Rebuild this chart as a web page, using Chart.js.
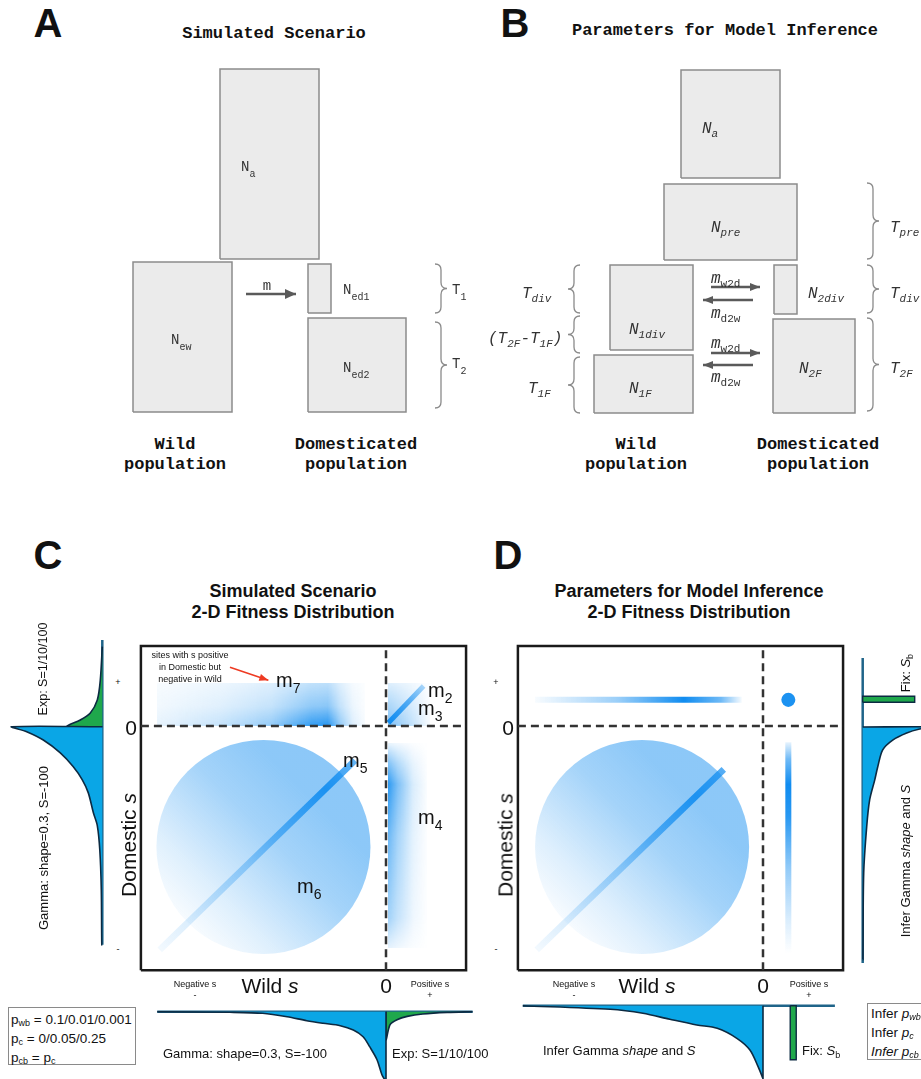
<!DOCTYPE html>
<html lang="en">
<head>
<meta charset="utf-8">
<title>Demographic models and 2-D fitness distributions</title>
<script src="https://cdn.jsdelivr.net/npm/chart.js@4.4.1/dist/chart.umd.min.js"></script>
<style>
  html, body { margin:0; padding:0; background:#fff; }
  #page { position:relative; width:921px; height:1079px; overflow:hidden;
          font-family:"Liberation Sans", Arial, Helvetica, sans-serif; color:#111; }
  #page canvas { position:absolute; }
  .t { position:absolute; white-space:nowrap; line-height:1; }
  .c { transform:translate(-50%,-50%); text-align:center; }
  .l { transform:translate(0,-50%); }
  .v { transform:translate(-50%,-50%) rotate(-90deg); }
  .letter { font-size:40px; font-weight:bold; }
  .ttl { font-family:"Liberation Mono","Courier New",monospace; font-weight:bold; font-size:17px; }
  .pop { font-family:"Liberation Mono","Courier New",monospace; font-weight:bold; font-size:17px;
         line-height:20px; text-align:center; }
  .na { font-family:"Liberation Mono","Courier New",monospace; font-size:14px; color:#333; }
  .na .s { font-size:10px; position:relative; top:6px; }
  .nb { font-family:"Liberation Mono","Courier New",monospace; font-style:italic; font-size:16px; color:#333; }
  .nb .s { font-size:11px; position:relative; top:4px; }
  .nb .u { font-style:normal; }
  .h2 { font-weight:bold; font-size:18px; line-height:21px; text-align:center; }
  .ax { font-size:21px; }
  .sm { font-size:9px; }
  .mk { font-size:20px; }
  .mk .s { font-size:14px; position:relative; top:6px; }
  .lb { font-size:13px; }
  .s9 { font-size:9px; position:relative; top:3px; }
  .pb { position:absolute; border:1px solid #8a8a8a; background:#fff; font-size:13.5px;
        line-height:17px; box-sizing:border-box; white-space:nowrap; }
  .pb .s9 { top:2px; }
</style>
</head>
<body>
<div id="page">
  <!-- panel letters -->
  <div class="t c letter" style="left:48px;top:23px">A</div>
  <div class="t c letter" style="left:515px;top:23px">B</div>
  <div class="t c letter" style="left:48px;top:555px">C</div>
  <div class="t c letter" style="left:508px;top:555px">D</div>

  <!-- panel A: simulated demography -->
  <div class="t c ttl" style="left:274px;top:33px">Simulated Scenario</div>
  <div class="t l na" style="left:241px;top:167px">N<span class="s">a</span></div>
  <div class="t l na" style="left:171px;top:340px">N<span class="s">ew</span></div>
  <div class="t l na" style="left:343px;top:290px">N<span class="s">ed1</span></div>
  <div class="t l na" style="left:343px;top:368px">N<span class="s">ed2</span></div>
  <div class="t c na" style="left:267px;top:286px">m</div>
  <div class="t l na" style="left:452px;top:290px">T<span class="s">1</span></div>
  <div class="t l na" style="left:452px;top:364px">T<span class="s">2</span></div>
  <div class="t c pop" style="left:175px;top:455px">Wild<br>population</div>
  <div class="t c pop" style="left:356px;top:455px">Domesticated<br>population</div>

  <!-- panel B: inferred demography -->
  <div class="t c ttl" style="left:725px;top:30px">Parameters for Model Inference</div>
  <div class="t l nb" style="left:702px;top:129px">N<span class="s">a</span></div>
  <div class="t l nb" style="left:711px;top:228px">N<span class="s">pre</span></div>
  <div class="t l nb" style="left:629px;top:330px">N<span class="s">1div</span></div>
  <div class="t l nb" style="left:629px;top:389px">N<span class="s">1F</span></div>
  <div class="t l nb" style="left:808px;top:294px">N<span class="s">2div</span></div>
  <div class="t l nb" style="left:799px;top:369px">N<span class="s">2F</span></div>
  <div class="t l nb" style="left:711px;top:279px">m<span class="s u">w2d</span></div>
  <div class="t l nb" style="left:711px;top:314px">m<span class="s u">d2w</span></div>
  <div class="t l nb" style="left:711px;top:344px">m<span class="s u">w2d</span></div>
  <div class="t l nb" style="left:711px;top:378px">m<span class="s u">d2w</span></div>
  <div class="t l nb" style="left:890px;top:228px">T<span class="s">pre</span></div>
  <div class="t l nb" style="left:890px;top:294px">T<span class="s">div</span></div>
  <div class="t l nb" style="left:890px;top:369px">T<span class="s">2F</span></div>
  <div class="t l nb" style="left:522px;top:294px">T<span class="s">div</span></div>
  <div class="t l nb" style="left:488px;top:339px">(T<span class="s">2F</span>-T<span class="s">1F</span>)</div>
  <div class="t l nb" style="left:528px;top:389px">T<span class="s">1F</span></div>
  <div class="t c pop" style="left:636px;top:455px">Wild<br>population</div>
  <div class="t c pop" style="left:818px;top:455px">Domesticated<br>population</div>

  <!-- panel C: simulated 2-D DFE -->
  <div class="t c h2" style="left:293px;top:602px">Simulated Scenario<br>2-D Fitness Distribution</div>
  <div class="t c sm" style="left:118px;top:682px">+</div>
  <div class="t c sm" style="left:118px;top:949px">-</div>
  <div class="t c ax" style="left:131px;top:727px">0</div>
  <div class="t v ax" style="left:128px;top:845px">Domestic <i>s</i></div>
  <div class="t c ax" style="left:270px;top:985px">Wild <i>s</i></div>
  <div class="t c ax" style="left:386px;top:985px">0</div>
  <div class="t c sm" style="left:195px;top:984px">Negative s</div>
  <div class="t c sm" style="left:195px;top:995px">-</div>
  <div class="t c sm" style="left:430px;top:984px">Positive s</div>
  <div class="t c sm" style="left:430px;top:995px">+</div>
  <div class="t c sm" style="left:190px;top:655px">sites with s positive</div>
  <div class="t c sm" style="left:190px;top:667px">in Domestic but</div>
  <div class="t c sm" style="left:190px;top:679px">negative in Wild</div>
  <div class="t l mk" style="left:276px;top:680px">m<span class="s">7</span></div>
  <div class="t l mk" style="left:428px;top:690px">m<span class="s">2</span></div>
  <div class="t l mk" style="left:418px;top:708px">m<span class="s">3</span></div>
  <div class="t l mk" style="left:343px;top:760px">m<span class="s">5</span></div>
  <div class="t l mk" style="left:418px;top:817px">m<span class="s">4</span></div>
  <div class="t l mk" style="left:297px;top:886px">m<span class="s">6</span></div>
  <div class="t v lb" style="left:43px;top:669px;font-size:12.5px">Exp: S=1/10/100</div>
  <div class="t v lb" style="left:43px;top:848px">Gamma: shape=0.3, S=-100</div>
  <div class="t l lb" style="left:163px;top:1053px">Gamma: shape=0.3, S=-100</div>
  <div class="t l lb" style="left:392px;top:1053px">Exp: S=1/10/100</div>
  <div class="pb" style="left:8px;top:1007px;width:128px;height:58px;padding:3px 0 0 2px">
    p<span class="s9">wb</span> = 0.1/0.01/0.001<br>
    p<span class="s9">c</span> = 0/0.05/0.25<br>
    p<span class="s9">cb</span> = p<span class="s9">c</span>
  </div>

  <!-- panel D: 2-D DFE used for inference -->
  <div class="t c h2" style="left:689px;top:602px">Parameters for Model Inference<br>2-D Fitness Distribution</div>
  <div class="t c sm" style="left:496px;top:682px">+</div>
  <div class="t c sm" style="left:496px;top:949px">-</div>
  <div class="t c ax" style="left:508px;top:727px">0</div>
  <div class="t v ax" style="left:505px;top:845px">Domestic <i>s</i></div>
  <div class="t c ax" style="left:647px;top:985px">Wild <i>s</i></div>
  <div class="t c ax" style="left:763px;top:985px">0</div>
  <div class="t c sm" style="left:574px;top:984px">Negative s</div>
  <div class="t c sm" style="left:574px;top:995px">-</div>
  <div class="t c sm" style="left:809px;top:984px">Positive s</div>
  <div class="t c sm" style="left:809px;top:995px">+</div>
  <div class="t v lb" style="left:905px;top:673px">Fix: <i>S</i><span class="s9">b</span></div>
  <div class="t v lb" style="left:905px;top:861px">Infer Gamma <i>shape</i> and <i>S</i></div>
  <div class="t l lb" style="left:543px;top:1050px">Infer Gamma <i>shape</i> and <i>S</i></div>
  <div class="t l lb" style="left:802px;top:1050px">Fix: <i>S</i><span class="s9">b</span></div>
  <div class="pb" style="left:867px;top:1003px;width:70px;height:57px;padding:1px 0 0 3px;line-height:18px">
    Infer <i>p<span class="s9">wb</span></i><br>
    Infer <i>p<span class="s9">c</span></i><br>
    <i>Infer p<span class="s9">cb</span></i>
  </div>
</div>

<script>
// ---------------------------------------------------------------------------
// Data
// ---------------------------------------------------------------------------

// Panel A – simulated demography. Boxes are [left, right, bottom, top]:
// x is relative population size, y is time before present.
const simBoxes = [
  [12.0, 21.9, 17.1, 36.1],   // N_a
  [3.3, 13.2, 1.8, 16.8],     // N_ew
  [20.8, 23.1, 11.7, 16.6],   // N_ed1
  [20.8, 30.6, 1.8, 11.2]     // N_ed2
];
const simMigration = [[14.6, 19.6, 13.6]];            // [from, to, time]
const simEpochs = [[33.5, 11.7, 16.6], [33.5, 2.2, 10.8]]; // [x, start, end]

// Panel B – demography used for inference
const infBoxes = [
  [21.1, 31.0, 25.2, 36.0],   // N_a
  [19.4, 32.7, 17.0, 24.6],   // N_pre
  [14.0, 22.3, 8.0, 16.5],    // N_1div
  [12.4, 22.3, 1.7, 7.5],     // N_1F
  [30.4, 32.7, 11.6, 16.5],   // N_2div
  [30.3, 38.5, 1.7, 11.1]     // N_2F
];
const infMigration = [[24.1, 29.0, 14.3], [28.3, 23.3, 13.0], [24.1, 29.0, 7.7], [28.3, 23.3, 6.5]];
const infEpochsRight = [[39.7, 17.1, 24.7], [39.7, 11.7, 16.5], [39.7, 1.9, 11.2]];
const infEpochsLeft = [[11.0, 11.7, 16.5], [11.0, 7.7, 11.4], [11.0, 1.7, 7.3]];

// 2-D DFE panels: x = wild s, y = domestic s (arbitrary s units, 0 = neutral)
const dfeExtent = [-30, 9.8, -29.9, 9.8];                 // [xMin, xMax, yMin, yMax]
const simM7 = {x0: -28.0, x1: -2.6, y0: 0, y1: 5.3};
const simM23 = {x0: 0.2, x1: 5.4, y0: 0, y1: 5.3};
const simM23Diag = [[0.3, 0.4], [4.6, 4.9]];
const simM4 = {x0: 0.2, x1: 5.0, y0: -27.2, y1: -2.1};
const simM6 = {cx: -15.0, cy: -14.8, r: 13.1};
const simM5 = [[-27.7, -27.4], [-3.8, -4.2]];
const noteArrow = [[-19.1, 7.2], [-14.4, 5.6]];

const infBand = [[-27.9, 3.2], [-2.6, 3.2]];
const infDot = {x: 3.1, y: 3.2, r: 0.86};
const infColumn = [[3.1, -2.0], [3.1, -27.8]];
const infM6 = {cx: -14.8, cy: -14.8, r: 13.1};
const infDiag = [[-27.7, -27.4], [-4.8, -5.3]];

// Marginal densities
const simWildNegS = [-28.0, -19.1, -15.1, -12.1, -9.7, -7.7, -5.6, -4.0, -2.8, -2.0, -1.1, -0.5, 0];
const simWildNegD = [0, 0.06, 0.16, 0.50, 0.90, 1.16, 1.40, 1.83, 2.5, 3.5, 4.8, 6.3, 7.0];
const simWildPosS = [0, 0.5, 1.35, 2.6, 4.5, 7.5, 10.6];
const simWildPosD = [2.8, 1.3, 0.8, 0.47, 0.23, 0.07, 0];
const simDomNegS = [0, -0.61, -1.63, -3.2, -4.9, -6.5, -8.1, -10.5, -12.1, -15.1, -20.0, -26.7];
const simDomNegD = [9.06, 7.56, 5.9, 4.2, 2.9, 2.0, 1.4, 0.9, 0.5, 0.25, 0.1, 0.05];
const simDomPosS = [0.05, 0.82, 1.68, 3.27, 5.7, 9.8];
const simDomPosD = [3.5, 2.2, 1.2, 0.5, 0.2, 0];
const simWildAxis = [-28.0, 10.6];
const simDomAxis = [-26.7, 10.6];

const infWildNegS = [-29.4, -18.7, -14.7, -11.4, -8.1, -5.6, -3.2, -1.6, -0.6, 0];
const infWildNegD = [0, 0.36, 0.76, 1.36, 1.93, 2.26, 3.26, 4.43, 6.1, 7.3];
const infDomNegS = [0, -0.25, -0.73, -1.6, -2.8, -4.9, -6.5, -8.9, -12.2, -17.9, -28.5];
const infDomNegD = [7.0, 5.7, 4.4, 3.0, 2.0, 1.5, 1.2, 0.7, 0.4, 0.1, 0.02];
const infWildAxis = [-29.4, 8.8];
const infDomAxis = [-28.9, 8.45];
const fixSbWild = {s: 3.7, d: 5.4};   // fixed beneficial s, wild marginal
const fixSbDom = {s: 3.4, d: 5.2};    // fixed beneficial s, domestic marginal

// ---------------------------------------------------------------------------
// Styling and helpers
// ---------------------------------------------------------------------------
const PX = 8.17;          // pixels per s unit in panels C and D
const DPX = 10;           // pixels per density unit / diagram unit
const BAR_PX = 6;         // thickness of the fixed-S_b bars
const BLUE = '16,140,240';
const rgba = a => `rgba(${BLUE},${a})`;
const DENS_FILL = '#0aa6e6', DENS_EDGE = '#0c2a42', AXIS_TEAL = '#1f6489';
const GREEN = '#1fa84c';
const BOX_FILL = '#ebebeb', BOX_EDGE = '#8c8c8c', ARROW = '#5a5a5a';
const page = document.getElementById('page');

function axisRange(m, lo, len, horizontal) {
  // m.zero: pixel of value 0; m.ppu: pixels per unit; m.dir: +1 grows right/up, -1 left/down
  if (horizontal) {
    return m.dir > 0 ? {min: (lo - m.zero) / m.ppu, max: (lo + len - m.zero) / m.ppu, reverse: false}
                     : {min: (m.zero - lo - len) / m.ppu, max: (m.zero - lo) / m.ppu, reverse: true};
  }
  return m.dir > 0 ? {min: (m.zero - lo - len) / m.ppu, max: (m.zero - lo) / m.ppu, reverse: false}
                   : {min: (lo - m.zero) / m.ppu, max: (lo + len - m.zero) / m.ppu, reverse: true};
}

function makeChart(box, xm, ym, datasets, plugins) {
  const cv = document.createElement('canvas');
  cv.width = box[2]; cv.height = box[3];
  Object.assign(cv.style, {left: box[0] + 'px', top: box[1] + 'px', width: box[2] + 'px', height: box[3] + 'px'});
  page.insertBefore(cv, page.firstChild);
  return new Chart(cv, {
    type: 'line',
    data: {datasets},
    options: {
      responsive: false, maintainAspectRatio: false, animation: false, devicePixelRatio: 1, events: [],
      layout: {padding: 0},
      elements: {point: {radius: 0}, line: {tension: 0}},
      plugins: {legend: {display: false}, tooltip: {enabled: false}},
      scales: {
        x: Object.assign({type: 'linear', display: false, bounds: 'data'}, axisRange(xm, box[0], box[2], true)),
        y: Object.assign({type: 'linear', display: false, bounds: 'data'}, axisRange(ym, box[1], box[3], false))
      }
    },
    plugins: [arrowHeads].concat(plugins || [])
  });
}

const pts = list => list.map(([x, y]) => ({x, y}));
const zip = (a, b) => a.map((v, i) => [v, b[i]]);
const poly = (list, fill, edge, w, extra) =>
  Object.assign({data: pts(list), fill: 'shape', backgroundColor: fill, borderColor: edge, borderWidth: w, pointRadius: 0}, extra || {});
const seg = (list, color, w, extra) =>
  Object.assign({data: pts(list), fill: false, borderColor: color, borderWidth: w, pointRadius: 0}, extra || {});
const rect = ([x0, x1, y0, y1]) => [[x0, y0], [x1, y0], [x1, y1], [x0, y1], [x0, y0]];

// arrowheads at the last point of any dataset that carries an `arrow` entry
const arrowHeads = {
  id: 'arrowHeads',
  afterDatasetsDraw(chart) {
    const ctx = chart.ctx;
    chart.data.datasets.forEach((ds, i) => {
      if (!ds.arrow) return;
      const el = chart.getDatasetMeta(i).data;
      const a = el[el.length - 2], b = el[el.length - 1];
      const ang = Math.atan2(b.y - a.y, b.x - a.x);
      ctx.save();
      ctx.translate(b.x, b.y); ctx.rotate(ang);
      ctx.beginPath();
      ctx.moveTo(0, 0); ctx.lineTo(-ds.arrow[0], ds.arrow[1] / 2); ctx.lineTo(-ds.arrow[0], -ds.arrow[1] / 2);
      ctx.closePath(); ctx.fillStyle = ds.borderColor; ctx.fill();
      ctx.restore();
    });
  }
};

function drawBrace(ctx, x, ya, yb, w) {
  const h = Math.abs(w) / 2, s = Math.sign(w), ym = (ya + yb) / 2, xm = x + s * h, xt = x + w;
  ctx.beginPath();
  ctx.moveTo(x, ya);
  ctx.quadraticCurveTo(xm, ya, xm, ya + h);
  ctx.lineTo(xm, ym - h);
  ctx.quadraticCurveTo(xm, ym, xt, ym);
  ctx.quadraticCurveTo(xm, ym, xm, ym + h);
  ctx.lineTo(xm, yb - h);
  ctx.quadraticCurveTo(xm, yb, x, yb);
  ctx.stroke();
}
function bracePlugin(groups) {
  return {
    id: 'epochBraces',
    afterDatasetsDraw(chart) {
      const {ctx, scales: {x, y}} = chart;
      ctx.save(); ctx.strokeStyle = '#8a8a8a'; ctx.lineWidth = 1.3;
      groups.forEach(([list, dir]) => list.forEach(([bx, y0, y1]) =>
        drawBrace(ctx, x.getPixelForValue(bx), y.getPixelForValue(y1), y.getPixelForValue(y0), 12 * dir)));
      ctx.restore();
    }
  };
}

// ---- gradient painters for the 2-D DFE components ----
function paintRect(chart, r, hStops, vStops) {
  const {x, y} = chart.scales;
  const L = x.getPixelForValue(r.x0), R = x.getPixelForValue(r.x1);
  const T = y.getPixelForValue(r.y1), B = y.getPixelForValue(r.y0);
  const w = Math.max(1, Math.round(R - L)), h = Math.max(1, Math.round(B - T));
  const off = document.createElement('canvas'); off.width = w; off.height = h;
  const o = off.getContext('2d');
  const g = o.createLinearGradient(0, 0, w, 0);
  hStops.forEach(([f, a]) => g.addColorStop(f, rgba(a)));
  o.fillStyle = g; o.fillRect(0, 0, w, h);
  o.globalCompositeOperation = 'destination-in';
  const m = o.createLinearGradient(0, 0, 0, h);
  vStops.forEach(([f, a]) => m.addColorStop(f, `rgba(0,0,0,${a})`));
  o.fillStyle = m; o.fillRect(0, 0, w, h);
  chart.ctx.drawImage(off, L, T);
}
function paintDisc(chart, c) {
  const {ctx, scales: {x, y}} = chart;
  const px = x.getPixelForValue(c.cx), py = y.getPixelForValue(c.cy);
  const rp = Math.abs(x.getPixelForValue(c.cx + c.r) - px);
  const g = ctx.createLinearGradient(px - 0.8 * rp, py + 0.8 * rp, px + 0.45 * rp, py - 0.45 * rp);
  g.addColorStop(0, rgba(0)); g.addColorStop(0.3, rgba(0.14));
  g.addColorStop(0.7, rgba(0.38)); g.addColorStop(1, rgba(0.48));
  ctx.save(); ctx.beginPath(); ctx.arc(px, py, rp, 0, Math.PI * 2);
  ctx.fillStyle = g; ctx.fill(); ctx.restore();
}
function paintStroke(chart, s, w, stops) {
  const {ctx, scales: {x, y}} = chart;
  const x0 = x.getPixelForValue(s[0][0]), y0 = y.getPixelForValue(s[0][1]);
  const x1 = x.getPixelForValue(s[1][0]), y1 = y.getPixelForValue(s[1][1]);
  const g = ctx.createLinearGradient(x0, y0, x1, y1);
  stops.forEach(([f, a]) => g.addColorStop(f, rgba(a)));
  ctx.save(); ctx.strokeStyle = g; ctx.lineWidth = w; ctx.lineCap = 'butt';
  ctx.beginPath(); ctx.moveTo(x0, y0); ctx.lineTo(x1, y1); ctx.stroke(); ctx.restore();
}
function paintDot(chart, d) {
  const {ctx, scales: {x, y}} = chart;
  const px = x.getPixelForValue(d.x), py = y.getPixelForValue(d.y);
  const rp = Math.abs(x.getPixelForValue(d.x + d.r) - px);
  ctx.save(); ctx.beginPath(); ctx.arc(px, py, rp, 0, Math.PI * 2);
  ctx.fillStyle = rgba(0.95); ctx.fill(); ctx.restore();
}

const simDfe = {
  id: 'simDfe',
  beforeDatasetsDraw(chart) {
    paintRect(chart, simM7,
      [[0, 0.10], [0.3, 0.24], [0.55, 0.45], [0.74, 0.85], [0.82, 0.9], [0.88, 0.45], [0.94, 0.15], [1, 0.03]],
      [[0, 0.3], [0.55, 0.55], [1, 1]]);
    paintRect(chart, simM23, [[0, 0.55], [0.5, 0.3], [1, 0.03]], [[0, 0.25], [1, 1]]);
    paintStroke(chart, simM23Diag, 5, [[0, 1], [0.6, 0.65], [1, 0.35]]);
    paintRect(chart, simM4, [[0, 0.9], [0.25, 0.55], [0.65, 0.16], [1, 0.02]],
      [[0, 0.1], [0.1, 0.6], [0.2, 1], [0.45, 0.7], [0.85, 0.45], [1, 0.12]]);
    paintDisc(chart, simM6);
    paintStroke(chart, simM5, 6.5, [[0, 0.05], [0.45, 0.35], [0.85, 0.9], [1, 0.65]]);
  }
};
const infDfe = {
  id: 'infDfe',
  beforeDatasetsDraw(chart) {
    paintStroke(chart, infBand, 6, [[0, 0.03], [0.4, 0.42], [0.72, 1], [0.9, 0.6], [1, 0.04]]);
    paintDot(chart, infDot);
    paintStroke(chart, infColumn, 6, [[0, 0.1], [0.08, 0.6], [0.2, 1], [0.35, 0.9], [0.6, 0.45], [0.85, 0.15], [1, 0]]);
    paintDisc(chart, infM6);
    paintStroke(chart, infDiag, 6.5, [[0, 0.05], [0.45, 0.35], [0.85, 0.9], [1, 0.7]]);
  }
};

// ---------------------------------------------------------------------------
// Panels A and B – demographic schematics
// ---------------------------------------------------------------------------
makeChart([100, 50, 370, 380], {zero: 100, ppu: DPX, dir: 1}, {zero: 430, ppu: DPX, dir: 1},
  simBoxes.map(b => poly(rect(b), BOX_FILL, BOX_EDGE, 1.5))
    .concat(simMigration.map(([a, b, t]) => seg([[a, t], [b, t]], ARROW, 2.5, {arrow: [11, 10]}))),
  [bracePlugin([[simEpochs, 1]])]);

makeChart([470, 50, 451, 380], {zero: 470, ppu: DPX, dir: 1}, {zero: 430, ppu: DPX, dir: 1},
  infBoxes.map(b => poly(rect(b), BOX_FILL, BOX_EDGE, 1.5))
    .concat(infMigration.map(([a, b, t]) => seg([[a, t], [b, t]], ARROW, 2.5, {arrow: [10, 8]}))),
  [bracePlugin([[infEpochsRight, 1], [infEpochsLeft, -1]])]);

// ---------------------------------------------------------------------------
// Panels C and D – 2-D DFE
// ---------------------------------------------------------------------------
function dfeFrame() {
  const [x0, x1, y0, y1] = dfeExtent;
  return [
    seg([[0, y0], [0, y1]], '#333', 2.5, {borderDash: [8, 5]}),
    seg([[x0, 0], [x1, 0]], '#333', 2.5, {borderDash: [8, 5]}),
    seg(rect([x0, x1, y0, y1]), '#1a1a1a', 2.5)
  ];
}
makeChart([136, 641, 335, 334], {zero: 386, ppu: PX, dir: 1}, {zero: 726, ppu: PX, dir: 1},
  dfeFrame().concat([seg(noteArrow, '#ee3a22', 1.6, {arrow: [9, 7]})]), [simDfe]);
makeChart([513, 641, 335, 334], {zero: 763, ppu: PX, dir: 1}, {zero: 726, ppu: PX, dir: 1},
  dfeFrame(), [infDfe]);

// ---- marginal densities ----
const curve = {tension: 0.3};
const half = BAR_PX / 2 / PX;

// C, bottom: wild s
{
  const neg = zip(simWildNegS, simWildNegD);
  const tip = neg[neg.length - 1];
  const blue = [[simWildNegS[0], 0]].concat(neg, [tip, [0, 0], [0, 0]]);
  const green = [[0, 0], [0, 0]].concat(zip(simWildPosS, simWildPosD));
  makeChart([140, 1000, 340, 79], {zero: 386, ppu: PX, dir: 1}, {zero: 1011.7, ppu: DPX, dir: -1}, [
    poly(blue, DENS_FILL, DENS_EDGE, 1.6, curve),
    poly(green, GREEN, DENS_EDGE, 1.6, curve),
    seg([[simWildAxis[0], 0], [simWildAxis[1], 0]], AXIS_TEAL, 2.5)
  ]);
}
// C, left: domestic s
{
  const neg = zip(simDomNegD, simDomNegS);
  const last = neg[neg.length - 1];
  const blue = [[0, 0], [0, 0]].concat(neg, [[0, last[1]]]);
  const green = [[0, 0], [0, 0]].concat(zip(simDomPosD, simDomPosS));
  makeChart([0, 630, 112, 330], {zero: 102.3, ppu: DPX, dir: -1}, {zero: 726.7, ppu: PX, dir: 1}, [
    poly(blue, DENS_FILL, DENS_EDGE, 1.6, curve),
    poly(green, GREEN, DENS_EDGE, 1.6, curve),
    seg([[0, simDomAxis[1]], [0, simDomAxis[0]]], AXIS_TEAL, 2.5)
  ]);
}
// D, right: domestic s
{
  const neg = zip(infDomNegD, infDomNegS);
  const last = neg[neg.length - 1];
  const blue = [[0, 0], [0, 0]].concat(neg, [[0, last[1]]]);
  const bar = rect([0, fixSbDom.d, fixSbDom.s - half, fixSbDom.s + half]);
  makeChart([850, 645, 71, 330], {zero: 862.7, ppu: DPX, dir: 1}, {zero: 727, ppu: PX, dir: 1}, [
    poly(blue, DENS_FILL, DENS_EDGE, 1.6, curve),
    poly(bar, GREEN, DENS_EDGE, 1.4),
    seg([[0, infDomAxis[1]], [0, infDomAxis[0]]], AXIS_TEAL, 2.5)
  ]);
}
// D, bottom: wild s
{
  const neg = zip(infWildNegS, infWildNegD);
  const tip = neg[neg.length - 1];
  const blue = [[infWildNegS[0], 0]].concat(neg, [tip, [0, 0], [0, 0]]);
  const bar = rect([fixSbWild.s - half, fixSbWild.s + half, 0, fixSbWild.d]);
  makeChart([515, 995, 330, 84], {zero: 763, ppu: PX, dir: 1}, {zero: 1005.7, ppu: DPX, dir: -1}, [
    poly(blue, DENS_FILL, DENS_EDGE, 1.6, curve),
    poly(bar, GREEN, DENS_EDGE, 1.4),
    seg([[infWildAxis[0], 0], [infWildAxis[1], 0]], AXIS_TEAL, 2.5)
  ]);
}
</script>
</body>
</html>
